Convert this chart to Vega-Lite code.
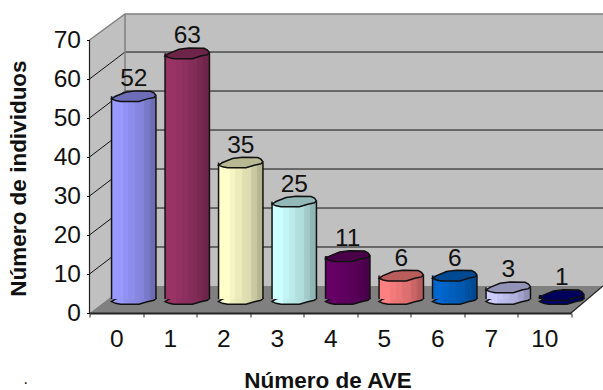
{
  "$schema": "https://vega.github.io/schema/vega-lite/v6.json",
  "width": 513.5,
  "height": 299,
  "autosize": "none",
  "padding": {"left": 89.5, "top": 14, "right": 0, "bottom": 77},
  "background": "white",
  "config": {"view": {"stroke": null}, "font": "Liberation Sans"},
  "datasets": {
    "counts": [
      {"ave": "0", "n": 52},
      {"ave": "1", "n": 63},
      {"ave": "2", "n": 35},
      {"ave": "3", "n": 25},
      {"ave": "4", "n": 11},
      {"ave": "5", "n": 6},
      {"ave": "6", "n": 6},
      {"ave": "7", "n": 3},
      {"ave": "10", "n": 1}
    ],
    "backWall": [
      {"u": 0.6636, "lo": 6.92, "hi": 76.67},
      {"u": 9.598, "lo": 6.92, "hi": 76.67}
    ],
    "sideWall": [
      {"u": 0, "lo": 0, "hi": 70},
      {"u": 0.6636, "lo": 6.92, "hi": 76.67}
    ],
    "floor": [
      {"u": 0, "lo": 0, "hi": 0},
      {"u": 0.6636, "lo": 0, "hi": 6.92},
      {"u": 9, "lo": 0, "hi": 6.92},
      {"u": 9.598, "lo": 6.92, "hi": 6.92}
    ],
    "grid": [
      {"level": 10, "u": 0, "v": 10}, {"level": 10, "u": 0.6636, "v": 16.92}, {"level": 10, "u": 9.598, "v": 16.92},
      {"level": 20, "u": 0, "v": 20}, {"level": 20, "u": 0.6636, "v": 26.92}, {"level": 20, "u": 9.598, "v": 26.92},
      {"level": 30, "u": 0, "v": 30}, {"level": 30, "u": 0.6636, "v": 36.92}, {"level": 30, "u": 9.598, "v": 36.92},
      {"level": 40, "u": 0, "v": 40}, {"level": 40, "u": 0.6636, "v": 46.92}, {"level": 40, "u": 9.598, "v": 46.92},
      {"level": 50, "u": 0, "v": 50}, {"level": 50, "u": 0.6636, "v": 56.92}, {"level": 50, "u": 9.598, "v": 56.92},
      {"level": 60, "u": 0, "v": 60}, {"level": 60, "u": 0.6636, "v": 66.92}, {"level": 60, "u": 9.598, "v": 66.92}
    ],
    "wallEdge": [
      {"edge": "top", "u": 0, "v": 70}, {"edge": "top", "u": 0.6636, "v": 76.67}, {"edge": "top", "u": 9.598, "v": 76.67},
      {"edge": "corner", "u": 0.6636, "v": 76.67}, {"edge": "corner", "u": 0.6636, "v": 6.92}
    ],
    "frame": [
      {"edge": "axis", "u": 0, "v": 0}, {"edge": "axis", "u": 0, "v": 70},
      {"edge": "floor", "u": 9, "v": 0}, {"edge": "floor", "u": 9.598, "v": 6.92}
    ],
    "stray": [{"u": -1.19, "v": -18.2, "mark": "."}]
  },
  "resolve": {"scale": {"x": "independent"}},
  "layer": [
    {
      "encoding": {
        "x": {"field": "u", "type": "quantitative", "axis": null, "scale": {"domain": [0, 9.598], "nice": false, "zero": false}}
      },
      "layer": [
        {
          "data": {"name": "backWall"},
          "mark": {"type": "area", "fill": "#C0C0C0", "clip": false},
          "encoding": {
            "y": {"field": "lo", "type": "quantitative", "scale": {"domain": [0, 76.67], "nice": false},
              "axis": {"values": [0, 10, 20, 30, 40, 50, 60, 70], "domain": false, "grid": false, "zindex": 1,
                "tickColor": "black", "tickSize": 3, "tickWidth": 1, "labelFontSize": 24.5, "labelColor": "#111", "labelPadding": 6, "labelFont": "Liberation Sans",
                "title": "Número de individuos", "titleFont": "Liberation Sans", "titleFontSize": 22.5, "titleFontWeight": "bold", "titleColor": "#111",
                "titleX": -71.5, "titleY": 164, "titleAngle": -90, "titleAlign": "center", "titleBaseline": "middle"}},
            "y2": {"field": "hi"}
          }
        },
        {
          "data": {"name": "sideWall"},
          "mark": {"type": "area", "fill": "#C0C0C0"},
          "encoding": {"y": {"field": "lo", "type": "quantitative"}, "y2": {"field": "hi"}}
        },
        {
          "data": {"name": "floor"},
          "mark": {"type": "area", "fill": "#808080"},
          "encoding": {"y": {"field": "lo", "type": "quantitative"}, "y2": {"field": "hi"}}
        },
        {
          "data": {"name": "grid"},
          "mark": {"type": "line", "stroke": "#111", "strokeWidth": 1},
          "encoding": {"y": {"field": "v", "type": "quantitative"}, "detail": {"field": "level"}}
        },
        {
          "data": {"name": "wallEdge"},
          "mark": {"type": "line", "stroke": "#808080", "strokeWidth": 1.5},
          "encoding": {"y": {"field": "v", "type": "quantitative"}, "detail": {"field": "edge"}}
        },
        {
          "data": {"name": "frame"},
          "mark": {"type": "line", "stroke": "#222", "strokeWidth": 1.2},
          "encoding": {"y": {"field": "v", "type": "quantitative"}, "detail": {"field": "edge"}}
        },
        {
          "data": {"name": "stray"},
          "mark": {"type": "text", "fontSize": 16, "color": "#111", "baseline": "alphabetic", "clip": false},
          "encoding": {"y": {"field": "v", "type": "quantitative"}, "text": {"field": "mark"}}
        }
      ]
    },
    {
      "data": {"name": "counts"},
      "encoding": {
        "x": {"field": "ave", "type": "nominal", "sort": null,
          "scale": {"domain": ["0", "1", "2", "3", "4", "5", "6", "7", "10"], "range": [0, 481.5], "paddingInner": 0, "paddingOuter": 0},
          "axis": {"tickBand": "extent", "labelAngle": 0, "zindex": 1, "domainColor": "#222", "domainWidth": 2, "tickColor": "#222", "tickWidth": 1, "tickSize": 4,
            "labelFontSize": 24.5, "labelColor": "#111", "labelPadding": 10, "labelFont": "Liberation Sans",
            "title": "Número de AVE", "titleFont": "Liberation Sans", "titleFontSize": 22.5, "titleFontWeight": "bold", "titleColor": "#111",
            "titleX": 238, "titleY": 74.5, "titleAlign": "center", "titleBaseline": "alphabetic"}},
        "color": {"field": "ave", "type": "nominal", "legend": null,
          "scale": {"domain": ["0", "1", "2", "3", "4", "5", "6", "7", "10"],
            "range": ["#9999FF", "#993366", "#FFFFCC", "#CCFFFF", "#660066", "#FF8080", "#0066CC", "#CCCCFF", "#000080"]}}
      },
      "layer": [
        {
          "mark": {"type": "point", "filled": true, "opacity": 1, "size": 1971, "xOffset": 17.5, "yOffset": -14,
            "shape": "M -1 .12 L -.82 .195 L -.594 .24 L .233 .24 L .61 .12 L .91 .06 L 1 -.03 L .91 -.15 L .76 -.225 L .08 -.24 L -.37 -.18 L -.82 0 Z"},
          "encoding": {"y": {"datum": 0, "type": "quantitative"}}
        },
        {
          "mark": {"type": "point", "filled": true, "opacity": 1, "size": 1971, "xOffset": 17.5, "yOffset": -14, "stroke": "#111", "strokeWidth": 1.5,
            "fill": {"gradient": "linear", "x1": 0, "x2": 1, "y1": 0, "y2": 0, "stops": [
              {"offset": 0, "color": "rgba(0,0,0,0)"}, {"offset": 0.25, "color": "rgba(0,0,0,0)"}, {"offset": 0.25, "color": "rgba(0,0,0,0.05)"},
              {"offset": 0.5, "color": "rgba(0,0,0,0.1)"}, {"offset": 0.75, "color": "rgba(0,0,0,0.17)"}, {"offset": 1, "color": "rgba(0,0,0,0.3)"}]},
            "shape": "M -1 .12 L -.82 .195 L -.594 .24 L .233 .24 L .61 .12 L .91 .06 L 1 -.03 L .91 -.15 L .76 -.225 L .08 -.24 L -.37 -.18 L -.82 0 Z"},
          "encoding": {"y": {"datum": 0, "type": "quantitative"}, "color": {"value": null}}
        },
        {
          "mark": {"type": "bar", "width": 44.4, "xOffset": 17.5, "yOffset": -14, "y2Offset": -14},
          "encoding": {"y": {"field": "n", "type": "quantitative"}, "y2": {"datum": 0}}
        },
        {
          "mark": {"type": "bar", "width": 44.4, "xOffset": 17.5, "yOffset": -14, "y2Offset": -14,
            "fill": {"gradient": "linear", "x1": 0, "x2": 1, "y1": 0, "y2": 0, "stops": [
              {"offset": 0, "color": "rgba(0,0,0,0)"}, {"offset": 0.25, "color": "rgba(0,0,0,0)"},
              {"offset": 0.25, "color": "rgba(0,0,0,0.04)"}, {"offset": 0.38, "color": "rgba(0,0,0,0.04)"},
              {"offset": 0.38, "color": "rgba(0,0,0,0.08)"}, {"offset": 0.52, "color": "rgba(0,0,0,0.08)"},
              {"offset": 0.52, "color": "rgba(0,0,0,0.12)"}, {"offset": 0.72, "color": "rgba(0,0,0,0.14)"},
              {"offset": 0.72, "color": "rgba(0,0,0,0.2)"}, {"offset": 0.86, "color": "rgba(0,0,0,0.22)"},
              {"offset": 0.86, "color": "rgba(0,0,0,0.28)"}, {"offset": 1, "color": "rgba(0,0,0,0.3)"}]}},
          "encoding": {"y": {"field": "n", "type": "quantitative"}, "y2": {"datum": 0}, "color": {"value": null}}
        },
        {
          "mark": {"type": "rule", "xOffset": -4.7, "x2Offset": -4.7, "yOffset": -14, "y2Offset": -14, "stroke": "#111", "strokeWidth": 1.5},
          "encoding": {"y": {"field": "n", "type": "quantitative"}, "y2": {"datum": 0}, "color": {"value": "#111"}}
        },
        {
          "mark": {"type": "rule", "xOffset": 39.7, "x2Offset": 39.7, "yOffset": -14, "y2Offset": -14, "stroke": "#111", "strokeWidth": 1.5},
          "encoding": {"y": {"field": "n", "type": "quantitative"}, "y2": {"datum": 0}, "color": {"value": "#111"}}
        },
        {
          "mark": {"type": "point", "filled": true, "opacity": 1, "size": 1971, "xOffset": 17.5, "yOffset": -14,
            "shape": "M -1 .12 L -.82 .195 L -.594 .24 L .233 .24 L .61 .12 L .91 .06 L 1 -.03 L .91 -.15 L .76 -.225 L .08 -.24 L -.37 -.18 L -.82 0 Z"},
          "encoding": {"y": {"field": "n", "type": "quantitative"}}
        },
        {
          "mark": {"type": "point", "filled": true, "opacity": 1, "size": 1971, "xOffset": 17.5, "yOffset": -14, "fill": "black", "fillOpacity": 0.28, "stroke": "#111", "strokeWidth": 1.5,
            "shape": "M -1 .12 L -.82 .195 L -.594 .24 L .233 .24 L .61 .12 L .91 .06 L 1 -.03 L .91 -.15 L .76 -.225 L .08 -.24 L -.37 -.18 L -.82 0 Z"},
          "encoding": {"y": {"field": "n", "type": "quantitative"}, "color": {"value": null}}
        },
        {
          "mark": {"type": "text", "fontSize": 24.5, "align": "center", "baseline": "alphabetic", "xOffset": 17.5, "yOffset": -14, "dy": -10, "color": "#111"},
          "encoding": {"y": {"field": "n", "type": "quantitative"}, "text": {"field": "n", "type": "quantitative"}, "color": {"value": "#111"}}
        }
      ]
    }
  ]
}
